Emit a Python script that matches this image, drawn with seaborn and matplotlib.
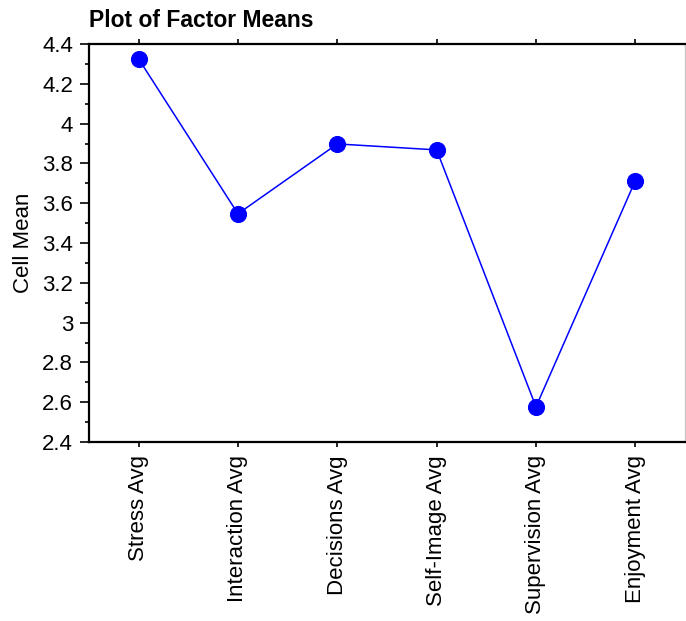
import matplotlib
matplotlib.use("Agg")
import matplotlib.pyplot as plt
from matplotlib.ticker import MultipleLocator
import seaborn as sns
import pandas as pd

factors = ["Stress Avg", "Interaction Avg", "Decisions Avg",
           "Self-Image Avg", "Supervision Avg", "Enjoyment Avg"]
cell_means = [4.325, 3.547, 3.898, 3.868, 2.577, 3.713]

sns.set_style("white")
plt.rcParams["font.family"] = ["Liberation Sans", "DejaVu Sans"]
plt.rcParams["text.color"] = "black"
plt.rcParams["axes.labelcolor"] = "black"
plt.rcParams["xtick.color"] = "black"
plt.rcParams["ytick.color"] = "black"

df = pd.DataFrame({"factor": factors, "mean": cell_means})

fig = plt.figure(figsize=(6.86, 6.21), dpi=100)
ax = fig.add_axes([0.1297, 0.2882, 0.8688, 0.6409])

sns.pointplot(data=df, x="factor", y="mean", color="#0000ff",
              markers="o", markersize=11.5, linewidth=1.1, ax=ax)

ax.set_xlim(-0.5, 5.5)
ax.set_ylim(2.4, 4.4)
ax.yaxis.set_major_locator(MultipleLocator(0.2))
ax.yaxis.set_minor_locator(MultipleLocator(0.1))
ax.set_yticks(ax.get_yticks())
ax.set_yticklabels([f"{v:g}" for v in ax.get_yticks()])
ax.set_ylim(2.4, 4.4)

ax.tick_params(axis="y", which="major", direction="out", length=6.5,
               width=1.2, labelsize=16, left=True, pad=5)
ax.tick_params(axis="y", which="minor", direction="out", length=3,
               width=1.2, left=True)
ax.tick_params(axis="x", which="major", direction="out", length=3.6,
               width=1.2, labelsize=16, bottom=True, top=True,
               labelrotation=90, pad=6)

for side in ["left", "bottom", "top"]:
    ax.spines[side].set_color("black")
    ax.spines[side].set_linewidth(1.6)
ax.spines["right"].set_color("#c8c8c8")
ax.spines["right"].set_linewidth(1.0)

ax.set_xlabel("")
ax.set_ylabel("Cell Mean", fontsize=16, labelpad=6)
ax.set_title("Plot of Factor Means", fontsize=16.5, fontweight="bold",
             loc="left", pad=12)

fig.savefig("out.png", dpi=100)
